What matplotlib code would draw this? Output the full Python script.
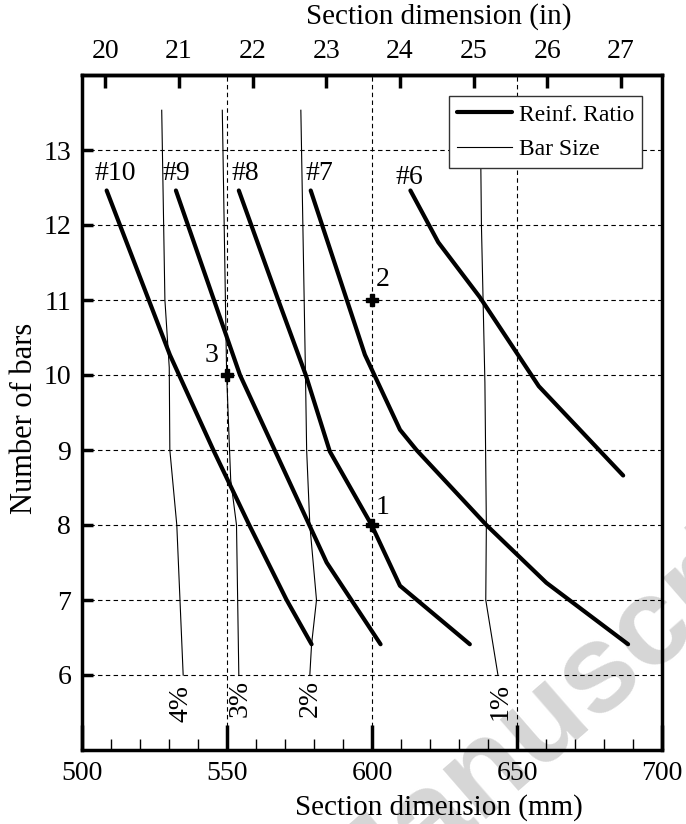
import matplotlib
matplotlib.use("Agg")
import matplotlib.pyplot as plt
from matplotlib.ticker import MultipleLocator, FixedLocator

plt.rcParams['font.family'] = ['Liberation Serif', 'DejaVu Serif']

# ---------------- data (section dimension in mm, number of bars) ----------------
bar_labels = ["#10", "#9", "#8", "#7", "#6"]
bar10_x = [508.4, 530.2, 545.2, 557.6, 570.5, 579.1]
bar10_y = [12.46, 10.27, 9.0, 8.0, 7.0, 6.41]
bar9_x = [532.3, 554.4, 584.3, 602.9]
bar9_y = [12.46, 10.0, 7.5, 6.41]
bar8_x = [554.0, 567.6, 577.1, 585.4, 599.8, 609.6, 633.7]
bar8_y = [12.46, 11.0, 10.0, 8.98, 8.0, 7.19, 6.41]
bar7_x = [578.8, 597.5, 609.6, 615.3, 639.4, 660.1, 688.3]
bar7_y = [12.46, 10.27, 9.27, 9.0, 8.0, 7.23, 6.41]
bar6_x = [613.2, 622.8, 637.1, 657.5, 686.6]
bar6_y = [12.46, 11.77, 11.04, 9.85, 8.66]

ratio_labels = ["4%", "3%", "2%", "1%"]
r4_x = [527.4, 528.5, 530.0, 530.2, 532.6, 534.8]
r4_y = [13.53, 11.0, 10.1, 9.0, 8.0, 6.0]
r3_x = [548.3, 549.8, 551.2, 553.2, 554.0]
r3_y = [13.53, 10.0, 8.6, 8.0, 6.0]
r2_x = [575.4, 577.0, 577.4, 578.5, 580.8, 579.1, 578.5]
r2_y = [13.53, 10.0, 9.0, 8.0, 7.0, 6.41, 6.0]
r1_x = [637.3, 637.7, 638.9, 639.4, 639.2, 643.4]
r1_y = [13.53, 12.0, 9.9, 8.0, 7.0, 6.0]
ratio_label_x = [533.9, 554.4, 578.5, 644.0]
ratio_label_y = [5.62, 5.69, 5.69, 5.65]

bar_label_x = [511.3, 532.5, 556.1, 581.8, 613.0]
bar_label_y = [12.69, 12.69, 12.69, 12.69, 12.63]

point_names = ["1", "2", "3"]
point_x = [600, 600, 550]
point_y = [8, 11, 10]
point_label_x = [603.7, 603.7, 544.6]
point_label_y = [8.23, 11.28, 10.26]

x_ticks_mm = [500, 550, 600, 650, 700]
x_ticks_in = [20, 21, 22, 23, 24, 25, 26, 27]
y_ticks = [6, 7, 8, 9, 10, 11, 12, 13]

# ---------------- figure ----------------
W, H = 686, 824
fig = plt.figure(figsize=(W / 100, H / 100), dpi=100)

# faint publisher watermark behind the plot
fig.text(347.7 / W, -108.4 / H, "Manuscript", fontsize=90, fontweight='bold',
         family='Liberation Sans', color='#d6d6d6', rotation=41,
         rotation_mode='anchor', ha='left', va='baseline', zorder=-5)

ax = fig.add_axes([82.3 / W, (H - 750) / H, 579.7 / W, 675 / H])
ax.patch.set_alpha(0)

FS = 20
thick = dict(color='black', lw=3.0, solid_capstyle='round', solid_joinstyle='round', zorder=4)
thin = dict(color='black', lw=0.8, zorder=3)

bars = [(bar10_x, bar10_y), (bar9_x, bar9_y), (bar8_x, bar8_y), (bar7_x, bar7_y), (bar6_x, bar6_y)]
for i, (bx, by) in enumerate(bars):
    ax.plot(bx, by, label="Reinf. Ratio" if i == 0 else None, **thick)
ratios = [(r4_x, r4_y), (r3_x, r3_y), (r2_x, r2_y), (r1_x, r1_y)]
for i, (rx, ry) in enumerate(ratios):
    ax.plot(rx, ry, label="Bar Size" if i == 0 else None, **thin)

for t, x, y in zip(bar_labels, bar_label_x, bar_label_y):
    ax.text(x, y, t, fontsize=FS, ha='center', va='center', zorder=6)
for t, x, y in zip(ratio_labels, ratio_label_x, ratio_label_y):
    ax.text(x, y, t, fontsize=FS, ha='center', va='center', rotation=90, zorder=6)

ax.plot(point_x, point_y, ls='none', marker='P', ms=9, mfc='black', mec='black', zorder=7)
for t, x, y in zip(point_names, point_label_x, point_label_y):
    ax.text(x, y, t, fontsize=FS, ha='center', va='center', zorder=6)

ax.set_xlim(500, 700)
ax.set_ylim(5, 14)
ax.xaxis.set_major_locator(FixedLocator(x_ticks_mm))
ax.xaxis.set_minor_locator(MultipleLocator(10))
ax.yaxis.set_major_locator(FixedLocator(y_ticks))

ax.grid(True, which='major', ls=(0, (4, 3)), color='black', lw=0.8, zorder=1)

for s in ax.spines.values():
    s.set_linewidth(2.5)
    s.set_zorder(8)

ax.tick_params(axis='x', which='major', direction='in', length=18, width=2.5, labelsize=FS, pad=8, top=False)
ax.tick_params(axis='x', which='minor', direction='in', length=8, width=1.0, top=False)
ax.tick_params(axis='y', which='major', direction='in', length=8, width=2.5, labelsize=FS, pad=8, right=False)

sec = ax.secondary_xaxis('top', functions=(lambda x: x / 25.4, lambda x: x * 25.4))
sec.xaxis.set_major_locator(FixedLocator(x_ticks_in))
sec.tick_params(direction='in', length=9, width=2.5, labelsize=FS, pad=8)
sec.spines['top'].set_linewidth(2.5)

fig.text(439 / W, 1 - 808 / H, "Section dimension (mm)", fontsize=21, ha='center', va='center')
fig.text(439 / W, 1 - 17 / H, "Section dimension (in)", fontsize=21, ha='center', va='center')
fig.text(25 / W, 1 - 418 / H, "Number of bars", fontsize=22, ha='center', va='center', rotation=90)

leg = ax.legend(loc='upper right', bbox_to_anchor=(0.966, 0.969), borderaxespad=0,
                fontsize=17, frameon=True, fancybox=False, framealpha=1,
                edgecolor='#333333', handlelength=2.3, handletextpad=0.3,
                labelspacing=0.55, borderpad=0.35)
leg.get_frame().set_linewidth(1.0)
leg.set_zorder(9)

fig.savefig("out.png", dpi=100)
